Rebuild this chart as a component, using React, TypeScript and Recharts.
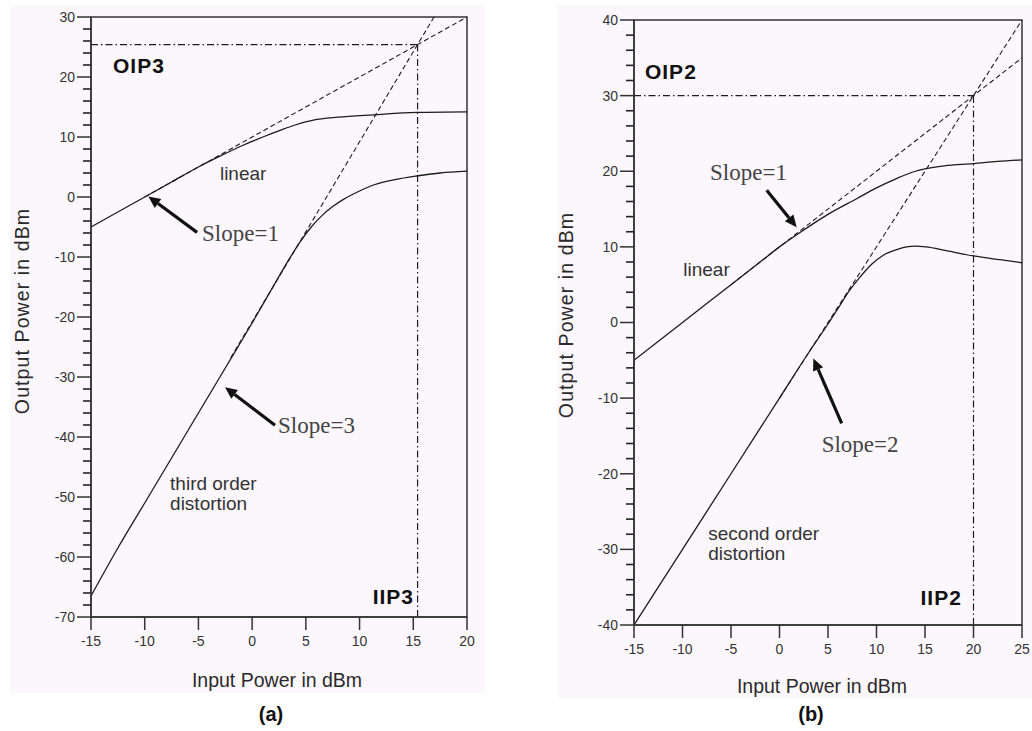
import { Line, LineChart, ReferenceArea, ReferenceDot, ReferenceLine, XAxis, YAxis } from 'recharts';

// axis ticks
const xTicksA = [-15, -10, -5, 0, 5, 10, 15, 20];
const yMajorA = [-70, -60, -50, -40, -30, -20, -10, 0, 10, 20, 30];
const xTicksB = [-15, -10, -5, 0, 5, 10, 15, 20, 25];
const yMajorB = [-40, -30, -20, -10, 0, 10, 20, 30, 40];

// (a) third order
const linearA = [
    { x: -15, y: -5 }, { x: -12.5, y: -2.5 }, { x: -10, y: 0 }, { x: -7.5, y: 2.5 }, { x: -5, y: 5 },
    { x: -3, y: 6.8 }, { x: -1, y: 8.5 }, { x: 1, y: 10 }, { x: 2.6, y: 11.1 }, { x: 4, y: 12 },
    { x: 5.7, y: 12.8 }, { x: 8, y: 13.3 }, { x: 11.3, y: 13.7 }, { x: 15.3, y: 14.1 }, { x: 20, y: 14.2 },
];
const thirdA = [
    { x: -15, y: -66.5 }, { x: -12.5, y: -58.5 }, { x: -10, y: -51 }, { x: -7.5, y: -43.5 }, { x: -5, y: -36 },
    { x: -2.5, y: -28.5 }, { x: 0, y: -21 }, { x: 2, y: -14.8 }, { x: 3.5, y: -10.2 }, { x: 4.5, y: -7.4 },
    { x: 5.5, y: -5 }, { x: 6.5, y: -3.1 }, { x: 7.5, y: -1.6 }, { x: 8.5, y: -0.4 }, { x: 10, y: 1 },
    { x: 11.3, y: 2 }, { x: 13.3, y: 2.9 }, { x: 15.3, y: 3.5 }, { x: 17.5, y: 4 }, { x: 20, y: 4.3 },
];
const slope1A = [{ x: -10, y: 0 }, { x: 20, y: 30 }];
const slope3A = [{ x: -2, y: -26.8 }, { x: 16.93, y: 30 }];
const oip3 = [{ x: -15, y: 25.4 }, { x: 15.4, y: 25.4 }];
const iip3 = [{ x: 15.4, y: -70 }, { x: 15.4, y: 25.4 }];

// (b) second order
const linearB = [
    { x: -15, y: -5 }, { x: -10, y: 0 }, { x: -5, y: 5 }, { x: -2, y: 8 }, { x: 0, y: 10 },
    { x: 2, y: 11.8 }, { x: 5, y: 14.3 }, { x: 8, y: 16.4 }, { x: 10, y: 17.8 }, { x: 12, y: 19 },
    { x: 14, y: 20 }, { x: 15, y: 20.3 }, { x: 17, y: 20.7 }, { x: 20, y: 21 }, { x: 22.5, y: 21.3 },
    { x: 25, y: 21.5 },
];
const secondB = [
    { x: -15, y: -40 }, { x: -10, y: -30 }, { x: -5, y: -20 }, { x: 0, y: -10 }, { x: 3, y: -4 },
    { x: 5, y: -0.2 }, { x: 6.2, y: 2.2 }, { x: 7.2, y: 4.2 }, { x: 8.3, y: 6 }, { x: 9.5, y: 7.7 },
    { x: 10.7, y: 8.9 }, { x: 12, y: 9.6 }, { x: 13.1, y: 10 }, { x: 14, y: 10.1 }, { x: 15.1, y: 10 },
    { x: 17.2, y: 9.5 }, { x: 20, y: 8.8 }, { x: 22.7, y: 8.3 }, { x: 25, y: 7.9 },
];
const slope1B = [{ x: -5, y: 5 }, { x: 25, y: 35 }];
const slope2B = [{ x: 0, y: -10 }, { x: 25, y: 40 }];
const oip2 = [{ x: -15, y: 30 }, { x: 20, y: 30 }];
const iip2 = [{ x: 20, y: -40 }, { x: 20, y: 30 }];

// annotations (data coordinates)
const arrowsA = [
    [{ x: -5.13, y: -5.9 }, { x: -9.66, y: 0.1 }],
    [{ x: 2.13, y: -38.05 }, { x: -2.52, y: -31.7 }],
];
const arrowsB = [
    [{ x: -1.32, y: 17.5 }, { x: 1.77, y: 12.6 }],
    [{ x: 6.41, y: -13.35 }, { x: 3.49, y: -4.75 }],
];
const labelsA = [
    { x: -12.95, y: 20.6, lines: ['OIP3'], kind: 'bold' },
    { x: -3, y: 2.8, lines: ['linear'], kind: 'sans' },
    { x: -4.66, y: -7.4, lines: ['Slope=1'], kind: 'serif' },
    { x: 2.41, y: -39.3, lines: ['Slope=3'], kind: 'serif' },
    { x: -7.64, y: -48.9, lines: ['third order', 'distortion'], kind: 'sans' },
    { x: 15.07, y: -67.8, lines: ['IIP3'], kind: 'bold', end: true },
];
const labelsB = [
    { x: -13.87, y: 32.2, lines: ['OIP2'], kind: 'bold' },
    { x: -7.16, y: 18.8, lines: ['Slope=1'], kind: 'serif' },
    { x: -9.92, y: 6.14, lines: ['linear'], kind: 'sans' },
    { x: 4.35, y: -17.1, lines: ['Slope=2'], kind: 'serif' },
    { x: -7.34, y: -28.8, lines: ['second order', 'distortion'], kind: 'sans' },
    { x: 18.8, y: -37.4, lines: ['IIP2'], kind: 'bold', end: true },
];

const SANS = '"Liberation Sans", Arial, sans-serif';
const SERIF = '"Liberation Serif", "Times New Roman", serif';
const INK = '#1c1c1c';
const AXIS = '#333';
const PANEL = '#fcf7fc';

// minor ticks every 2 units between the labelled ones
const minorOf = (majors: number[]) => majors.slice(1).flatMap((v) => [v - 8, v - 6, v - 4, v - 2]);

const minorTickShape = (p: any) => (
    <line x1={Number(p.x1) - 8} x2={Number(p.x1)} y1={p.y1} y2={p.y1} stroke="#222" strokeWidth={1.6} />
);

const arrowShape = (p: any) => {
    const { x1, y1, x2, y2 } = p;
    const ang = Math.atan2(y2 - y1, x2 - x1);
    const len = 12;
    const half = 5.5;
    const bx = x2 - len * Math.cos(ang);
    const by = y2 - len * Math.sin(ang);
    const px = -Math.sin(ang) * half;
    const py = Math.cos(ang) * half;
    return (
        <g>
            <line x1={x1} y1={y1} x2={bx} y2={by} stroke="#111" strokeWidth={3.2} />
            <polygon points={`${x2},${y2} ${bx + px},${by + py} ${bx - px},${by - py}`} fill="#111" />
        </g>
    );
};

const labelShape = (lab: any) => (p: any) => {
    const style =
        lab.kind === 'bold'
            ? { fontFamily: SANS, fontSize: 21, fontWeight: 700, fill: '#111', letterSpacing: 1 }
            : lab.kind === 'serif'
              ? { fontFamily: SERIF, fontSize: 23, fill: '#444' }
              : { fontFamily: SANS, fontSize: 19, fill: '#333' };
    return (
        <text x={p.cx} y={p.cy} textAnchor={lab.end ? 'end' : 'start'} {...style}>
            {lab.lines.map((t: string, i: number) => (
                <tspan key={i} x={p.cx} dy={i === 0 ? 0 : 20}>
                    {t}
                </tspan>
            ))}
        </text>
    );
};

const tickFont = { fontSize: 14, fill: '#333', fontFamily: SANS };
const solid = { stroke: INK, strokeWidth: 1.3, dot: false, isAnimationActive: false, type: 'monotone' as const };
const dashed = { stroke: INK, strokeWidth: 1.1, strokeDasharray: '5 3', dot: false, isAnimationActive: false, type: 'linear' as const };
const dashDot = { stroke: INK, strokeWidth: 1.2, strokeDasharray: '7 3 1.5 3', dot: false, isAnimationActive: false, type: 'linear' as const };

interface PanelProps {
    width: number;
    margin: { top: number; right: number; bottom: number; left: number };
    xDomain: [number, number];
    yDomain: [number, number];
    xTicks: number[];
    yTicks: number[];
    curves: { x: number; y: number }[][];
    guides: { x: number; y: number }[][];
    markers: { x: number; y: number }[][];
    arrows: { x: number; y: number }[][];
    labels: any[];
}

const IPPanel = ({ width, margin, xDomain, yDomain, xTicks, yTicks, curves, guides, markers, arrows, labels }: PanelProps) => (
    <LineChart width={width} height={731} margin={margin}>
        <XAxis
            type="number"
            dataKey="x"
            domain={xDomain}
            ticks={xTicks}
            interval={0}
            allowDataOverflow
            tickSize={13}
            tickMargin={6}
            tickLine={{ stroke: AXIS, strokeWidth: 1.5 }}
            tick={tickFont}
            axisLine={{ stroke: AXIS, strokeWidth: 1.5 }}
        />
        <YAxis
            type="number"
            dataKey="y"
            domain={yDomain}
            ticks={yTicks}
            interval={0}
            allowDataOverflow
            tickSize={14}
            tickMargin={2}
            tickLine={{ stroke: AXIS, strokeWidth: 1.5 }}
            tick={tickFont}
            axisLine={{ stroke: AXIS, strokeWidth: 1.5 }}
        />
        {minorOf(yTicks).map((v) => (
            <ReferenceLine key={`t${v}`} y={v} shape={minorTickShape} />
        ))}
        <ReferenceArea
            x1={xDomain[0]}
            x2={xDomain[1]}
            y1={yDomain[0]}
            y2={yDomain[1]}
            fill="none"
            stroke={AXIS}
            strokeWidth={1.5}
        />
        {markers.map((d, i) => (
            <Line key={`m${i}`} data={d} dataKey="y" {...dashDot} />
        ))}
        {guides.map((d, i) => (
            <Line key={`g${i}`} data={d} dataKey="y" {...dashed} />
        ))}
        {curves.map((d, i) => (
            <Line key={`c${i}`} data={d} dataKey="y" {...solid} />
        ))}
        {arrows.map((seg, i) => (
            <ReferenceLine key={`a${i}`} segment={seg} shape={arrowShape} />
        ))}
        {labels.map((lab, i) => (
            <ReferenceDot key={`l${i}`} x={lab.x} y={lab.y} r={0} shape={labelShape(lab)} />
        ))}
    </LineChart>
);

export default function App() {
    return (
        <div style={{ position: 'absolute', left: 0, top: 0, width: 1032, height: 731, background: '#fff', overflow: 'hidden' }}>
            <div style={{ position: 'absolute', left: 10, top: 5, width: 475, height: 688, background: PANEL }} />
            <div style={{ position: 'absolute', left: 557, top: 5, width: 475, height: 693, background: PANEL }} />

            <div style={{ position: 'absolute', left: 0, top: 0 }}>
                <IPPanel
                    width={485}
                    margin={{ top: 17, right: 18, bottom: 84, left: 31 }}
                    xDomain={[-15, 20]}
                    yDomain={[-70, 30]}
                    xTicks={xTicksA}
                    yTicks={yMajorA}
                    curves={[linearA, thirdA]}
                    guides={[slope1A, slope3A]}
                    markers={[oip3, iip3]}
                    arrows={arrowsA}
                    labels={labelsA}
                />
            </div>
            <div style={{ position: 'absolute', left: 520, top: 0 }}>
                <IPPanel
                    width={512}
                    margin={{ top: 20, right: 10, bottom: 76, left: 54 }}
                    xDomain={[-15, 25]}
                    yDomain={[-40, 40]}
                    xTicks={xTicksB}
                    yTicks={yMajorB}
                    curves={[linearB, secondB]}
                    guides={[slope1B, slope2B]}
                    markers={[oip2, iip2]}
                    arrows={arrowsB}
                    labels={labelsB}
                />
            </div>

            <svg width={1032} height={731} style={{ position: 'absolute', left: 0, top: 0, pointerEvents: 'none' }}>
                <g fontFamily={SANS} fill="#2a2a2a">
                    <text x={277} y={687} textAnchor="middle" fontSize={19.5}>Input Power in dBm</text>
                    <text x={29} y={311} textAnchor="middle" fontSize={19.5} letterSpacing={1.1} transform="rotate(-90 29 311)">
                        Output Power in dBm
                    </text>
                    <text x={271} y={721} textAnchor="middle" fontSize={20} fontWeight={700} fill="#111">(a)</text>

                    <text x={822} y={693} textAnchor="middle" fontSize={19.5}>Input Power in dBm</text>
                    <text x={573} y={315} textAnchor="middle" fontSize={19.5} letterSpacing={1.1} transform="rotate(-90 573 315)">
                        Output Power in dBm
                    </text>
                    <text x={811} y={721} textAnchor="middle" fontSize={20} fontWeight={700} fill="#111">(b)</text>
                </g>
            </svg>
        </div>
    );
}
